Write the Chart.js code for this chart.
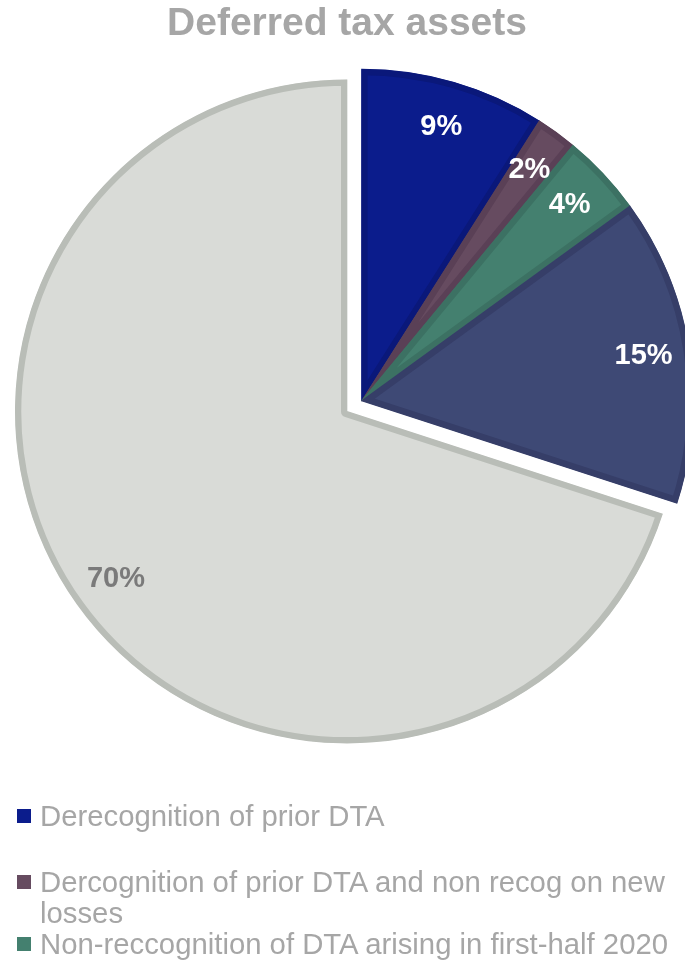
<!DOCTYPE html>
<html>
<head>
<meta charset="utf-8">
<script src="https://cdn.jsdelivr.net/npm/chart.js@4.4.1/dist/chart.umd.min.js"></script>
<style>
    html, body { margin: 0; padding: 0; background: #fff; }
    #wrap { position: relative; width: 685px; height: 960px; overflow: hidden; }
    #legend { position: absolute; left: 17px; top: 800px; width: 665px;
        font-family: "Liberation Sans", Arial, sans-serif; font-size: 29.3px; line-height: 31px; color: #a6a6a6; }
    .item { display: flex; align-items: flex-start; }
    .box { flex: none; width: 14px; height: 14px; margin: 9px 9px 0 0; }
</style>
</head>
<body>
<div id="wrap">
    <canvas id="myChart" width="685" height="960"></canvas>
    <div id="legend"></div>
</div>
<script>
// 各部分名称（后两项没有图例文字）
var labels = [
    'Derecognition of prior DTA',
    'Dercognition of prior DTA and non recog on new losses',
    'Non-reccognition of DTA arising in first-half 2020',
    '',
    ''
]
// 百分比
var values = [9, 2, 4, 15, 70]

var fills = ['#0b1c8c', '#664b60', '#44806f', '#3e4975', '#d9dbd7']
var borders = ['#0a187a', '#5a4056', '#3c7163', '#363e68', '#b9bdb7']
var labelColors = ['#fff', '#fff', '#fff', '#fff', '#7a7a7a']

/** 前四块一起往外拉出 */
var explodeGroup = {
    id: 'explodeGroup',
    afterUpdate: function (chart, args, opts) {
        var arcs = chart.getDatasetMeta(0).data
        var idx = opts.indices
        var mid = (arcs[idx[0]].startAngle + arcs[idx[idx.length - 1]].endAngle) / 2
        idx.forEach(function (i) {
            arcs[i].x += Math.cos(mid) * opts.distance
            arcs[i].y += Math.sin(mid) * opts.distance
        })
    }
}

/** 扇区上的百分比文字 */
var sliceLabels = {
    id: 'sliceLabels',
    afterDatasetsDraw: function (chart) {
        var ctx = chart.ctx
        var arcs = chart.getDatasetMeta(0).data
        ctx.save()
        ctx.font = 'bold 29px "Liberation Sans", Arial, sans-serif'
        ctx.textAlign = 'center'
        ctx.textBaseline = 'middle'
        arcs.forEach(function (arc, i) {
            var p = arc.getProps(['x', 'y', 'startAngle', 'endAngle', 'outerRadius'])
            var a = (p.startAngle + p.endAngle) / 2
            var r = p.outerRadius * 0.86
            ctx.fillStyle = labelColors[i]
            ctx.fillText(values[i] + '%', p.x + Math.cos(a) * r, p.y + Math.sin(a) * r)
        })
        ctx.restore()
    }
}

var ctx = document.getElementById('myChart').getContext('2d')
var myChart = new Chart(ctx, {
    type: 'pie',
    data: {
        labels: labels,
        datasets: [{
            data: values,
            backgroundColor: fills,
            borderColor: borders,
            borderWidth: 6,
            borderAlign: 'inner'
        }]
    },
    options: {
        responsive: false,
        animation: false,
        devicePixelRatio: 1,
        radius: 332,
        layout: { padding: { left: 9, right: 0, top: 0, bottom: 196 } },
        plugins: {
            legend: { display: false },
            tooltip: { enabled: false },
            title: {
                display: true,
                text: 'Deferred tax assets',
                color: '#a6a6a6',
                font: { family: '"Liberation Sans", Arial, sans-serif', size: 39, weight: 'bold' },
                padding: { top: 1, bottom: 11 }
            },
            explodeGroup: { indices: [0, 1, 2, 3], distance: 18 }
        }
    },
    plugins: [explodeGroup, sliceLabels]
})

/** 图例 */
var gaps = [35, 0, 0]
var legend = document.getElementById('legend')
labels.forEach(function (text, i) {
    if (!text) return
    var item = document.createElement('div')
    item.className = 'item'
    item.style.marginBottom = (gaps[i] || 0) + 'px'
    var box = document.createElement('span')
    box.className = 'box'
    box.style.background = fills[i]
    var span = document.createElement('span')
    span.textContent = text
    item.appendChild(box)
    item.appendChild(span)
    legend.appendChild(item)
})
</script>
</body>
</html>
